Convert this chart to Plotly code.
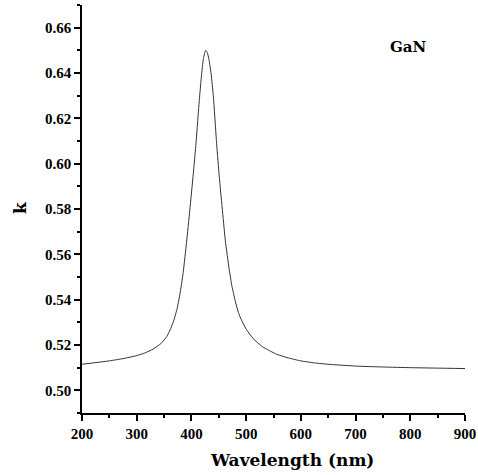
import plotly.graph_objects as go

wavelength = [200, 250, 275, 300, 315, 330, 345, 355, 362, 368, 374, 380, 385, 391, 397,
              403, 408, 414, 418, 422, 426, 429, 432, 436, 440, 446, 451, 456, 462, 469,
              474, 480, 485, 490, 500, 513, 530, 556, 577, 600, 625, 650, 700, 750, 800,
              850, 900]
k_values = [0.5115, 0.5130, 0.5140, 0.5153, 0.5165, 0.5182, 0.5208, 0.5238, 0.5272, 0.5310,
            0.5362, 0.5440, 0.5520, 0.5652, 0.5795, 0.5945, 0.6080, 0.6268, 0.6380, 0.6465,
            0.6500, 0.6490, 0.6460, 0.6395, 0.6300, 0.6090, 0.5940, 0.5810, 0.5660, 0.5534,
            0.5460, 0.5395, 0.5350, 0.5318, 0.5270, 0.5228, 0.5192, 0.5159, 0.5143, 0.5130,
            0.5121, 0.5115, 0.5107, 0.5103, 0.5100, 0.5098, 0.5096]

x_ticks = [200, 300, 400, 500, 600, 700, 800, 900]
y_ticks = [0.50, 0.52, 0.54, 0.56, 0.58, 0.60, 0.62, 0.64, 0.66]

tick_font = dict(family="Liberation Serif", size=15, color="black", weight="bold")
title_font = dict(family="DejaVu Serif", size=17, color="black", weight="bold")

fig = go.Figure()
fig.add_trace(go.Scatter(x=wavelength, y=k_values, mode="lines",
                         line=dict(color="#333333", width=1, shape="spline", smoothing=0.5),
                         showlegend=False, hoverinfo="skip"))

axis_common = dict(showline=True, linecolor="black", linewidth=1.5, showgrid=False,
                   zeroline=False, ticks="outside", ticklen=6, tickwidth=1.5, tickcolor="black",
                   tickfont=tick_font, mirror=False, automargin=False)

fig.update_xaxes(range=[200, 900], tickvals=x_ticks, ticktext=[str(v) for v in x_ticks],
                 minor=dict(dtick=50, tick0=200, ticks="outside", ticklen=3, tickwidth=1.5,
                            tickcolor="black"),
                 **axis_common)
fig.update_yaxes(range=[0.49, 0.67], tickvals=y_ticks, ticktext=[f"{v:.2f}" for v in y_ticks],
                 minor=dict(dtick=0.01, tick0=0.49, ticks="outside", ticklen=3, tickwidth=1.5,
                            tickcolor="black"),
                 **axis_common)

W, H = 478, 475
L, R, T, B = 82, 13, 5, 62
pw, ph = W - L - R, H - T - B

def px_to_domain(px, py):
    return (px - L) / pw, 1 - (py - T) / ph

ax, ay = px_to_domain(292, 460)
fig.add_annotation(x=ax, y=ay, xref="x domain", yref="y domain", text="Wavelength (nm)",
                   xanchor="center", yanchor="middle", showarrow=False, font=title_font)
kx, ky = px_to_domain(20, 208)
fig.add_annotation(x=kx, y=ky, xref="x domain", yref="y domain", text="k", textangle=-90,
                   xanchor="center", yanchor="middle", showarrow=False, font=title_font)
gx, gy = px_to_domain(408, 47)
fig.add_annotation(x=gx, y=gy, xref="x domain", yref="y domain", text="GaN",
                   xanchor="center", yanchor="middle", showarrow=False,
                   font=dict(family="DejaVu Serif", size=15, color="black", weight="bold"))

fig.update_layout(width=W, height=H, margin=dict(l=L, r=R, t=T, b=B),
                  plot_bgcolor="white", paper_bgcolor="white")

fig.write_html("out.html", config={"displayModeBar": False},
               post_script="document.body.style.margin='0';")
